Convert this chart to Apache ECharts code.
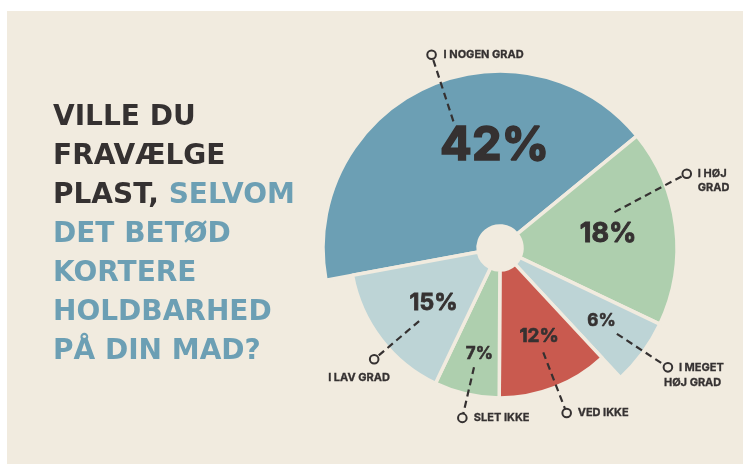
<!DOCTYPE html>
<html>
<head>
<meta charset="utf-8">
<script src="https://cdn.jsdelivr.net/npm/echarts@6/dist/echarts.min.js"></script>
<style>
  html, body { margin: 0; padding: 0; background: #ffffff; }
  #chart { width: 743px; height: 464px; }
</style>
</head>
<body>
<div id="chart"></div>
<script>
// data (clockwise from the big blue slice)
const categories = ['I NOGEN GRAD', 'I HØJ\nGRAD', 'I MEGET\nHØJ GRAD', 'VED IKKE', 'SLET IKKE', 'I LAV GRAD'];
const shares = [42, 18, 6, 12, 7, 15];
const titleDark = ['VILLE DU', 'FRAVÆLGE', 'PLAST, '];
const titleBlue = ['SELVOM', 'DET BETØD', 'KORTERE', 'HOLDBARHED', 'PÅ DIN MAD?'];

const cream = '#f1ebdf';
const dark = '#353131';
const sliceColors = ['#6c9fb4', '#aecfae', '#bdd4d6', '#c95a4f', '#aecfae', '#bdd4d6'];
// big slices stick out further than the small bottom ones
const outerGroup = [true, true, true, false, false, false];
const center = [500, 248];
const startAngle = 190.5;

// annotation layout: [angle shift in degrees from slice middle, radius in px]
const pctPos = [[21.9, 102], [-0.5, 109], [-0.6, 125], [-2.5, 97], [-1.9, 108], [-1.9, 86]];
const pctSize = [47, 27, 17, 19, 17, 23];
const leadFrom = [[4.7, 135], [-10.5, 120], [0, 145], [-1.2, 113], [-0.6, 122], [-4.6, 109]];
const leadTo = [[5.4, 205], [-14.8, 201], [-0.9, 206], [-0.7, 178], [-0.4, 174], [-4.0, 168]];
// per line of category text: offset from the small circle
const nameOffsets = [
  [[12, 0]],
  [[11, 0], [11, 14]],
  [[11, 0], [-4, 15.5]],
  [[11, 0]],
  [[11.5, 0]],
  [[-46, 18.5]]
];

const total = shares.reduce((a, b) => a + b, 0);
const midPct = [];
let acc = 0;
shares.forEach((v) => {
  midPct.push(((acc + v / 2) / total) * 100);
  acc += v;
});

function pieSeries(outer, radius) {
  return {
    type: 'pie',
    center: center,
    radius: [22, radius],
    startAngle: startAngle,
    clockwise: true,
    silent: true,
    animation: false,
    avoidLabelOverlap: false,
    label: { show: false },
    labelLine: { show: false },
    data: shares.map((v, i) => ({
      value: v,
      name: categories[i],
      itemStyle: outerGroup[i] === outer
        ? { color: sliceColors[i], borderColor: cream, borderWidth: 3.5 }
        : { color: 'rgba(0,0,0,0)', borderWidth: 0 }
    }))
  };
}

const chart = echarts.init(document.getElementById('chart'), null, { renderer: 'canvas' });

const titleText = titleDark.map((t, i) => '{d|' + t + '}' + (i === titleDark.length - 1 ? '' : '\n')).join('')
  + titleBlue.map((t) => '{b|' + t + '}').join('\n');

const titleFont = { fontFamily: 'DejaVu Sans', fontWeight: 'bold', fontSize: 28, lineHeight: 39 };

const option = {
  backgroundColor: '#ffffff',
  animation: false,
  graphic: [{
    type: 'rect',
    z: -10,
    silent: true,
    shape: { x: 7, y: 11, width: 743, height: 464 },
    style: { fill: cream }
  }],
  title: {
    text: titleText,
    left: 48,
    top: 93,
    textStyle: {
      rich: {
        d: Object.assign({ color: dark }, titleFont),
        b: Object.assign({ color: '#6c9fb4' }, titleFont)
      }
    }
  },
  polar: { center: center, radius: 250 },
  angleAxis: { type: 'value', min: 0, max: 100, startAngle: startAngle, clockwise: true, show: false },
  radiusAxis: { type: 'value', min: 0, max: 250, show: false },
  series: [
    pieSeries(true, 177),
    pieSeries(false, 150),
    {
      type: 'custom',
      coordinateSystem: 'polar',
      silent: true,
      z: 10,
      data: midPct.map((m) => [0, m]),
      encode: { radius: 0, angle: 1 },
      renderItem: function (params, api) {
        const i = params.dataIndex;
        const mid = api.value(1);
        const at = (p) => api.coord([p[1], mid + p[0] / 3.6]);
        const p0 = at(leadFrom[i]);
        const p1 = at(leadTo[i]);
        const pl = at(pctPos[i]);
        const children = [
          {
            type: 'line',
            shape: { x1: p0[0], y1: p0[1], x2: p1[0], y2: p1[1] },
            style: { stroke: dark, lineWidth: 2.2, lineDash: [7, 4.5] }
          },
          {
            type: 'circle',
            shape: { cx: p1[0], cy: p1[1], r: 4.3 },
            style: { fill: cream, stroke: dark, lineWidth: 2 }
          },
          {
            type: 'text',
            x: pl[0],
            y: pl[1],
            style: {
              text: shares[i] + '%',
              fontFamily: 'Inter',
              fontWeight: 'bold',
              fontSize: pctSize[i],
              fill: dark,
              stroke: dark,
              lineWidth: pctSize[i] / 30,
              align: 'center',
              verticalAlign: 'middle'
            }
          }
        ];
        categories[i].split('\n').forEach((line, k) => {
          const off = nameOffsets[i][k];
          children.push({
            type: 'text',
            x: p1[0] + off[0],
            y: p1[1] + off[1],
            style: {
              text: line,
              fontFamily: 'Inter',
              fontWeight: 'bold',
              fontSize: 11,
              fill: dark,
              stroke: dark,
              lineWidth: 0.3,
              align: 'left',
              verticalAlign: 'middle'
            }
          });
        });
        return { type: 'group', children: children };
      }
    }
  ]
};

chart.setOption(option);
</script>
</body>
</html>
